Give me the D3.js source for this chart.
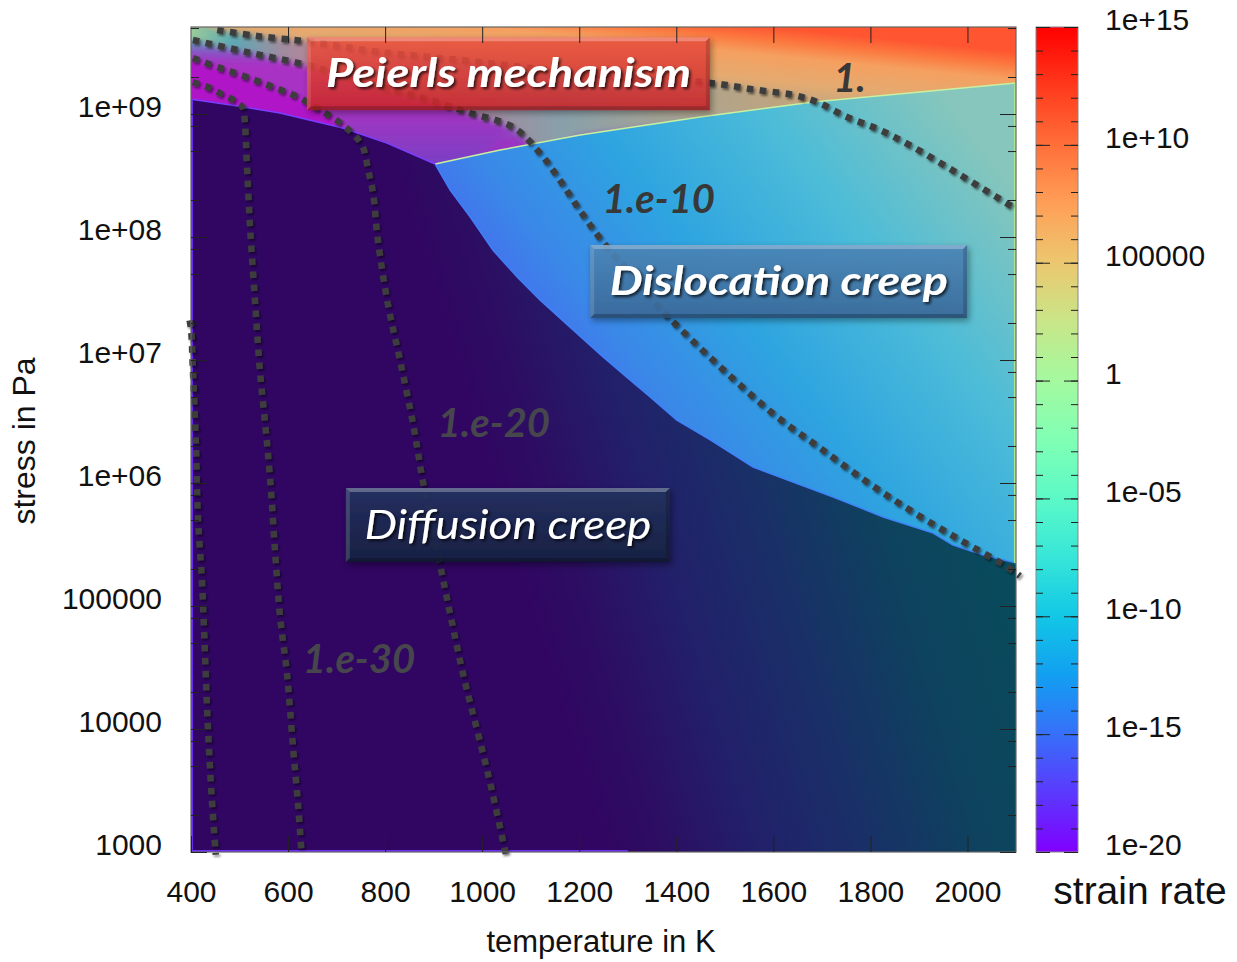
<!DOCTYPE html>
<html>
<head>
<meta charset="utf-8">
<script src="https://cdn.jsdelivr.net/npm/d3@7"></script>
<style>
  body { margin: 0; background: #fff; }
  svg { display: block; }
</style>
</head>
<body>
<svg id="chart" width="1237" height="962"></svg>
<script>
// ---- data ----
const temperatureTicks = [400, 600, 800, 1000, 1200, 1400, 1600, 1800, 2000];
const stressTicks = [1e3, 1e4, 1e5, 1e6, 1e7, 1e8, 1e9];
const stressLabels = ['1000', '10000', '100000', '1e+06', '1e+07', '1e+08', '1e+09'];
const rateTicks = [1e-20, 1e-15, 1e-10, 1e-5, 1, 1e5, 1e10, 1e15];
const rateLabels = ['1e-20', '1e-15', '1e-10', '1e-05', '1', '100000', '1e+10', '1e+15'];

// mechanism boundaries [temperature K, stress Pa]
const triplePoint = [903, 3.92e8];
const peierlsDiffusion = [[400, 1.32e9], [486, 1.18e9], [583, 1.02e9], [713, 7.7e8], [804, 5.8e8], [903, 3.92e8]];
const dislocationDiffusion = [[903, 3.92e8], [934, 2.41e8], [975, 1.46e8], [1022, 7.83e7], [1072, 4.73e7],
  [1119, 3.08e7], [1181, 1.85e7], [1249, 1.06e7], [1305, 6.87e6], [1346, 5.0e6], [1401, 3.25e6],
  [1470, 2.24e6], [1558, 1.35e6], [1628, 1.06e6], [1723, 7.7e5], [1826, 5.3e5], [1929, 3.92e5],
  [1970, 3.13e5], [2032, 2.6e5], [2100, 2.24e5]];
const peierlsDislocation = [[903, 3.92e8], [1037, 5.1e8], [1202, 6.74e8], [1449, 9.46e8], [1682, 1.25e9], [2100, 1.79e9]];

// strain rate contours
const contour1 = [[454, 4.82e9], [536, 4.31e9], [651, 3.85e9], [790, 3.19e9], [954, 2.75e9], [1243, 2.07e9],
  [1470, 1.79e9], [1566, 1.57e9], [1641, 1.43e9], [1690, 1.25e9], [1752, 9.46e8], [1820, 7.41e8],
  [1888, 5.39e8], [1958, 3.71e8], [2026, 2.55e8], [2100, 1.69e8]];
const contour1e10 = [[404, 4.0e9], [515, 3.19e9], [656, 2.41e9], [763, 1.79e9], [878, 1.35e9], [975, 1.02e9],
  [1064, 7.8e8], [1119, 4.82e8], [1160, 2.9e8], [1202, 1.63e8], [1249, 9.1e7], [1305, 5.1e7], [1360, 2.8e7],
  [1443, 1.32e7], [1525, 6.6e6], [1608, 3.44e6], [1696, 1.93e6], [1793, 1.02e6], [1888, 5.8e5],
  [1985, 3.44e5], [2082, 2.08e5], [2108, 1.75e5]];
const contour1e20 = [[404, 2.85e9], [460, 2.37e9], [515, 2.0e9], [569, 1.66e9], [621, 1.37e9], [666, 1.08e9],
  [713, 8.15e8], [752, 5.6e8], [765, 3.5e8], [775, 2.28e8], [785, 9.5e7], [806, 2.8e7], [831, 9.8e6],
  [858, 2.96e6], [878, 1.02e6], [907, 2.85e5], [934, 8.6e4], [961, 2.75e4], [989, 1.0e4], [1016, 3.7e3], [1049, 950]];
const contour1e30 = [[404, 1.82e9], [439, 1.63e9], [466, 1.43e9], [495, 1.25e9], [507, 1.12e9], [511, 8.45e8],
  [515, 4.0e8], [522, 1.14e8], [532, 2.97e7], [542, 8.15e6], [553, 2.96e6], [563, 1.08e6], [573, 2.85e5],
  [583, 8.6e4], [598, 2.75e4], [610, 7.3e3], [621, 2.3e3], [628, 950]];
const contour1e40 = [[397, 2.1e7], [400, 1.79e7], [404, 8.15e6], [410, 2.11e6], [414, 5.6e5], [423, 1.46e5],
  [429, 3.85e4], [435, 1.0e4], [443, 2.65e3], [451, 950]];

const contourLabels = [
  { text: '1.', T: 1757, stress: 1.51e9 },
  { text: '1.e-10', T: 1364, stress: 1.57e8 },
  { text: '1.e-20', T: 1024, stress: 2.37e6 },
  { text: '1.e-30', T: 746, stress: 2.85e4 }
];

const regionLabels = [
  { text: 'Peierls mechanism', T: 1054, stress: 2.13e9, kind: 'peierls' },
  { text: 'Dislocation creep', T: 1611, stress: 4.35e7, kind: 'dislocation' },
  { text: 'Diffusion creep', T: 1053, stress: 4.56e5, kind: 'diffusion' }
];

// colour bar palette, bottom (1e-20) to top (1e15)
const palette = ['#8000ff', '#5b39fd', '#376ff9', '#129ff1', '#12c7e6', '#37e6d8', '#5bf9c7',
  '#80ffb4', '#a4f99f', '#c8e688', '#ecc76f', '#ff9f57', '#ff6f39', '#ff391c', '#ff0000'];

// ---- setup ----
const svg = d3.select('#chart');
const defs = svg.append('defs');
const pLeft = 191, pRight = 1016, pTop = 27, pBottom = 852;

const x = d3.scaleLinear().domain([400, 2100]).range([pLeft, pRight]);
const y = d3.scaleLog().domain([1e3, 5.1e9]).range([pBottom, pTop]);
const rateY = d3.scaleLog().domain([1e-20, 1e15]).range([pBottom, pTop]);

const [Tmin, Tmax] = x.domain();
const [Smin, Smax] = y.domain();

const line = d3.line().x(d => x(d[0])).y(d => y(d[1]));
const smooth = d3.line().x(d => x(d[0])).y(d => y(d[1])).curve(d3.curveCatmullRom.alpha(0.5));
const polygon = pts => line(pts) + 'Z';
const upTo = (pts, t) => pts.filter(p => p[0] <= t);
const lower = pts => pts.map(([t, s]) => [t, s / 1.8]);

function linearGradient(id, x1, y1, x2, y2, stops, units) {
  const g = defs.append('linearGradient').attr('id', id)
    .attr('gradientUnits', units || 'userSpaceOnUse')
    .attr('x1', x1).attr('y1', y1).attr('x2', x2).attr('y2', y2);
  stops.forEach(([o, c, op]) => g.append('stop').attr('offset', o)
    .attr('stop-color', c).attr('stop-opacity', op === undefined ? 1 : op));
}

function dropShadow(id, dx, dy, sd, op) {
  const f = defs.append('filter').attr('id', id)
    .attr('x', '-20%').attr('y', '-20%').attr('width', '140%').attr('height', '140%');
  f.append('feDropShadow').attr('dx', dx).attr('dy', dy).attr('stdDeviation', sd)
    .attr('flood-color', '#000').attr('flood-opacity', op);
}

// gradients (style only)
linearGradient('gPeierls', 700, 20, 686, 160, [
  [0, '#ff5530'], [0.1, '#fb7a40'], [0.2, '#f5a060'], [0.38, '#e4aa70'],
  [0.57, '#b8a688'], [0.72, '#8ea0a4'], [0.84, '#8a74b2'], [0.93, '#9048c0'], [1, '#9a34c2']]);
linearGradient('gBand12', pLeft, 0, pRight, 0, [
  [0, '#9ccc98'], [0.05, '#5aaab4'], [0.11, '#a08ca0'], [0.18, '#c48092'],
  [0.31, '#b08098'], [0.45, '#88a0aa'], [0.62, '#b0a48c'], [0.76, '#c4a478']]);
linearGradient('gBand23', 0, 40, 0, 165, [
  [0, '#5a9cbc'], [0.1, '#8a50c4'], [0.2, '#aa30c4'], [0.56, '#a434c2'], [1, '#7a40c4']]);
linearGradient('gDisl', 500, 350, 900, 40, [
  [0, '#4a62f0'], [0.2, '#3a88e8'], [0.42, '#2ea4e0'], [0.7, '#4cbcd8'], [1, '#86c6bc']]);
linearGradient('gDiff', 560, 700, 1016, 560, [
  [0, '#300662'], [0.12, '#2c0e62'], [0.3, '#22206a'], [0.5, '#1a2e68'], [0.75, '#0e425e'], [1, '#084c5c']]);
linearGradient('gBar', 0, pBottom, 0, pTop, palette.map((c, i) => [i / (palette.length - 1), c]));

linearGradient('gBoxPeierls', 0, 0, 0, 1, [[0, '#ea5440'], [1, '#c8242a']], 'objectBoundingBox');
linearGradient('gBoxDisl', 0, 0, 0, 1, [[0, '#4c86b8'], [1, '#3a6898']], 'objectBoundingBox');
linearGradient('gBoxDiff', 0, 0, 0, 1, [[0, '#243260'], [1, '#172242']], 'objectBoundingBox');

const soft = defs.append('filter').attr('id', 'soft')
  .attr('x', '-10%').attr('y', '-10%').attr('width', '120%').attr('height', '120%');
soft.append('feGaussianBlur').attr('stdDeviation', 3);
dropShadow('dotShadow', 1.5, 2, 1.2, 0.5);
dropShadow('textShadow', 2, 2, 1.5, 0.75);
dropShadow('boxShadow', 2, 3, 3, 0.4);

// polygons of the three mechanism fields
const peierlsPoly = [[Tmin, Smax], [Tmax, Smax], ...peierlsDislocation.slice().reverse(), ...peierlsDiffusion.slice().reverse()];
const dislocationPoly = [...peierlsDislocation, ...dislocationDiffusion.slice().reverse()];
const diffusionPoly = [...peierlsDiffusion, ...dislocationDiffusion.slice(1), [Tmax, Smin], [Tmin, Smin]];

defs.append('clipPath').attr('id', 'plotClip')
  .append('rect').attr('x', pLeft).attr('y', pTop).attr('width', pRight - pLeft).attr('height', pBottom - pTop);
defs.append('clipPath').attr('id', 'peierlsClip').append('path').attr('d', polygon(peierlsPoly));

const plot = svg.append('g').attr('clip-path', 'url(#plotClip)');

// Peierls field: base plus colour bands between the contours on the cold side
plot.append('path').attr('d', polygon(peierlsPoly)).attr('fill', 'url(#gPeierls)');

const band12 = [[370, Smax * 1.3], ...upTo(contour1, 1690),
  ...peierlsDislocation.filter(p => p[0] > 1100 && p[0] < 1690).reverse(),
  ...upTo(contour1e10, 1120).reverse(), [370, contour1e10[0][1]]];
const band23 = [[370, contour1e10[0][1]], ...upTo(contour1e10, 1064), ...lower([triplePoint]),
  ...lower(peierlsDiffusion.filter(p => p[0] > 714 && p[0] < 903)).reverse(),
  ...upTo(contour1e20, 714).reverse(), [370, contour1e20[0][1]]];
const band3 = [[370, contour1e20[0][1]], ...upTo(contour1e20, 714),
  ...lower(upTo(peierlsDiffusion, 714)).reverse(), [370, peierlsDiffusion[0][1] / 1.8]];

const bands = plot.append('g').attr('clip-path', 'url(#peierlsClip)')
  .append('g').attr('filter', 'url(#soft)');
bands.append('path').attr('d', polygon(band12)).attr('fill', 'url(#gBand12)');
bands.append('path').attr('d', polygon(band23)).attr('fill', 'url(#gBand23)');
bands.append('path').attr('d', polygon(band3)).attr('fill', '#b014c8');

plot.append('path').attr('d', polygon(dislocationPoly)).attr('fill', 'url(#gDisl)');
plot.append('path').attr('d', polygon(diffusionPoly)).attr('fill', 'url(#gDiff)');

// thin coloured edges of the fields
plot.append('path').attr('d', line(peierlsDislocation)).attr('fill', 'none')
  .attr('stroke', '#c8f0a0').attr('stroke-width', 1.5);
plot.append('path').attr('d', line(dislocationDiffusion)).attr('fill', 'none')
  .attr('stroke', '#3d82ff').attr('stroke-width', 1.5).attr('opacity', 0.9);
plot.append('path').attr('d', line(peierlsDiffusion)).attr('fill', 'none')
  .attr('stroke', '#7a3cff').attr('stroke-width', 1.5);
plot.append('line')
  .attr('x1', x(Tmax) - 1).attr('x2', x(Tmax) - 1)
  .attr('y1', y(peierlsDislocation[peierlsDislocation.length - 1][1]))
  .attr('y2', y(dislocationDiffusion[dislocationDiffusion.length - 1][1]))
  .attr('stroke', '#a8e890').attr('stroke-width', 2);
plot.append('path')
  .attr('d', `M${pLeft + 1},${y(peierlsDiffusion[0][1])}V${pBottom - 1}H${x(1300)}`)
  .attr('fill', 'none').attr('stroke', '#6a2cf0').attr('stroke-width', 2);

// dotted strain-rate contours
const contours = [contour1, contour1e10, contour1e20, contour1e30, contour1e40];
svg.append('g').attr('filter', 'url(#dotShadow)')
  .selectAll('path').data(contours).join('path')
  .attr('d', smooth)
  .attr('fill', 'none')
  .attr('stroke', '#3e3e3e')
  .attr('stroke-width', 6.5)
  .attr('stroke-dasharray', '6.5 6.5');

const fontLabel = "Lato, 'Open Sans', 'DejaVu Sans', sans-serif";
svg.append('g').selectAll('text').data(contourLabels).join('text')
  .attr('x', d => x(d.T)).attr('y', d => y(d.stress))
  .attr('text-anchor', 'middle')
  .attr('font-family', fontLabel)
  .attr('font-size', 40).attr('font-weight', 'bold').attr('font-style', 'italic')
  .attr('fill', (d, i) => i < 2 ? '#383838' : '#46464c')
  .text(d => d.text);

// mechanism label boxes
const boxStyle = {
  peierls: { w: 403, h: 73, fill: 'url(#gBoxPeierls)', op: 0.88, weight: 'bold', textW: 365 },
  dislocation: { w: 377, h: 73, fill: 'url(#gBoxDisl)', op: 0.92, weight: 'bold', textW: 338 },
  diffusion: { w: 324, h: 74, fill: 'url(#gBoxDiff)', op: 0.94, weight: 'normal', textW: 287 }
};

const boxes = svg.append('g').selectAll('g').data(regionLabels).join('g')
  .attr('transform', d => `translate(${x(d.T)},${y(d.stress)})`);

boxes.each(function (d) {
  const s = boxStyle[d.kind];
  const g = d3.select(this);
  const bx = -s.w / 2, by = -s.h / 2, b = 4;
  const box = g.append('g').attr('opacity', s.op).attr('filter', 'url(#boxShadow)');
  box.append('rect').attr('x', bx).attr('y', by).attr('width', s.w).attr('height', s.h).attr('fill', s.fill);
  box.append('path').attr('d', `M${bx},${by}h${s.w}l${-b},${b}h${-(s.w - 2 * b)}Z`).attr('fill', '#fff').attr('opacity', 0.3);
  box.append('path').attr('d', `M${bx},${by + s.h}h${s.w}l${-b},${-b}h${-(s.w - 2 * b)}Z`).attr('fill', '#000').attr('opacity', 0.25);
  box.append('path').attr('d', `M${bx},${by}v${s.h}l${b},${-b}v${-(s.h - 2 * b)}Z`).attr('fill', '#fff').attr('opacity', 0.15);
  box.append('path').attr('d', `M${bx + s.w},${by}v${s.h}l${-b},${-b}v${-(s.h - 2 * b)}Z`).attr('fill', '#000').attr('opacity', 0.18);
  g.append('text')
    .attr('x', 0).attr('y', 0).attr('dy', '0.34em')
    .attr('text-anchor', 'middle')
    .attr('font-family', fontLabel)
    .attr('font-size', 40).attr('font-weight', s.weight).attr('font-style', 'italic')
    .attr('fill', '#fff')
    .attr('textLength', s.textW).attr('lengthAdjust', 'spacingAndGlyphs')
    .attr('filter', 'url(#textShadow)')
    .text(d.text);
});

// ---- axes and frame ----
const axisFont = "'Liberation Sans', Arial, sans-serif";
function styleAxis(g) {
  g.select('.domain').remove();
  g.selectAll('.tick line').attr('stroke', '#222');
  g.selectAll('text').attr('font-family', axisFont).attr('font-size', 30).attr('fill', '#111');
}

svg.append('rect').attr('x', pLeft).attr('y', pTop).attr('width', pRight - pLeft).attr('height', pBottom - pTop)
  .attr('fill', 'none').attr('stroke', '#666').attr('stroke-width', 1.2);

svg.append('g').attr('transform', `translate(0,${pBottom})`)
  .call(d3.axisBottom(x).tickValues(temperatureTicks).tickSize(-16).tickPadding(29).tickFormat(d3.format('d')))
  .call(styleAxis);
svg.append('g').attr('transform', `translate(0,${pTop})`)
  .call(d3.axisTop(x).tickValues(temperatureTicks.slice(1)).tickSize(-16).tickFormat(''))
  .call(styleAxis);

const minorStress = stressTicks.flatMap(v => [2, 5, 8].map(m => v * m)).filter(v => v < Smax);
svg.append('g').attr('transform', `translate(${pLeft},0)`)
  .call(d3.axisLeft(y).tickValues(stressTicks).tickSize(-16).tickPadding(29).tickFormat((d, i) => stressLabels[i]))
  .call(styleAxis)
  .call(g => g.selectAll('text').attr('y', -7));
svg.append('g').attr('transform', `translate(${pLeft},0)`)
  .call(d3.axisLeft(y).tickValues(minorStress).tickSize(-8).tickFormat(''))
  .call(styleAxis);
svg.append('g').attr('transform', `translate(${pRight},0)`)
  .call(d3.axisRight(y).tickValues(stressTicks).tickSize(-16).tickFormat(''))
  .call(styleAxis);
svg.append('g').attr('transform', `translate(${pRight},0)`)
  .call(d3.axisRight(y).tickValues(minorStress).tickSize(-8).tickFormat(''))
  .call(styleAxis);

svg.append('text')
  .attr('x', 601).attr('y', 952).attr('text-anchor', 'middle')
  .attr('font-family', axisFont).attr('font-size', 31).attr('fill', '#111')
  .text('temperature in K');
svg.append('text')
  .attr('transform', 'translate(35,441) rotate(-90)').attr('text-anchor', 'middle')
  .attr('font-family', axisFont).attr('font-size', 32).attr('fill', '#111')
  .text('stress in Pa');

// ---- colour bar ----
const barL = 1036, barR = 1078;
svg.append('rect').attr('x', barL).attr('y', pTop).attr('width', barR - barL).attr('height', pBottom - pTop)
  .attr('fill', 'url(#gBar)').attr('stroke', '#888').attr('stroke-width', 1);

const minorRate = d3.range(-20, 16).map(e => Math.pow(10, e));
svg.append('g').attr('transform', `translate(${barR},0)`)
  .call(d3.axisRight(rateY).tickValues(rateTicks).tickSize(-14).tickPadding(27).tickFormat((d, i) => rateLabels[i]))
  .call(styleAxis)
  .call(g => g.selectAll('text').attr('y', -7));
svg.append('g').attr('transform', `translate(${barR},0)`)
  .call(d3.axisRight(rateY).tickValues(minorRate).tickSize(-7).tickFormat(''))
  .call(styleAxis);
svg.append('g').attr('transform', `translate(${barL},0)`)
  .call(d3.axisLeft(rateY).tickValues(rateTicks).tickSize(-14).tickFormat(''))
  .call(styleAxis);
svg.append('g').attr('transform', `translate(${barL},0)`)
  .call(d3.axisLeft(rateY).tickValues(minorRate).tickSize(-7).tickFormat(''))
  .call(styleAxis);

svg.append('text')
  .attr('x', 1140).attr('y', 904).attr('text-anchor', 'middle')
  .attr('font-family', axisFont).attr('font-size', 39).attr('fill', '#111')
  .text('strain rate');
</script>
</body>
</html>
